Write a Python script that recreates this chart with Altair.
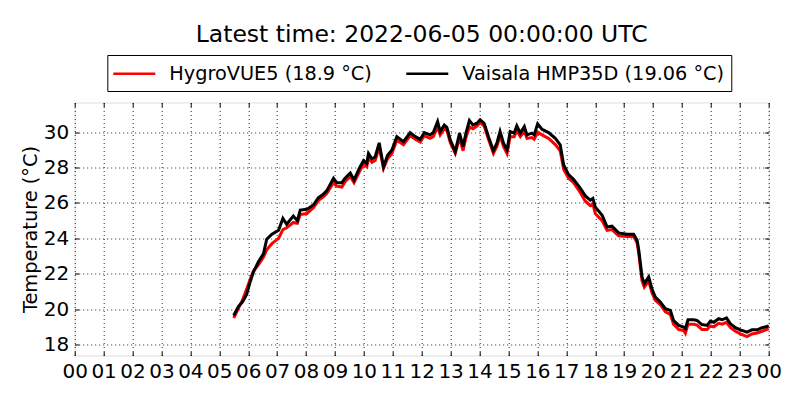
import altair as alt
import pandas as pd

FONT = "DejaVu Sans"

# hours of day (UTC) at which the traces were read
hours = [5.50, 5.66, 5.80, 5.95, 6.05, 6.18, 6.35, 6.53, 6.64, 6.82, 7.05, 7.20, 7.33, 7.56, 7.70,
         7.80, 8.03, 8.26, 8.43, 8.60, 8.72, 8.95, 9.06, 9.24, 9.35, 9.53, 9.66, 9.87, 9.99, 10.10,
         10.16, 10.28, 10.39, 10.53, 10.68, 10.82, 10.97, 11.14, 11.37, 11.60, 11.78, 11.95, 12.09,
         12.29, 12.40, 12.55, 12.64, 12.78, 12.87, 12.99, 13.16, 13.31, 13.43, 13.53, 13.65, 13.77,
         13.91, 14.02, 14.16, 14.31, 14.48, 14.60, 14.71, 14.83, 14.95, 15.06, 15.20, 15.29, 15.41,
         15.55, 15.64, 15.81, 15.89, 16.01, 16.16, 16.39, 16.62, 16.79, 16.91, 17.08, 17.25, 17.46,
         17.66, 17.83, 17.92, 18.00, 18.24, 18.41, 18.58, 18.81, 19.10, 19.33, 19.45, 19.51, 19.62,
         19.70, 19.85, 19.97, 20.08, 20.25, 20.43, 20.60, 20.71, 20.89, 21.06, 21.12, 21.21, 21.41,
         21.52, 21.69, 21.87, 21.98, 22.10, 22.27, 22.39, 22.54, 22.68, 22.85, 23.02, 23.25, 23.42,
         23.60, 23.77, 23.94, 24.00]

hygrovue = [19.50, 20.05, 20.50, 21.15, 21.60, 22.15, 22.50, 22.95, 23.35, 23.70, 24.00, 24.50, 24.60,
            24.90, 24.85, 25.35, 25.40, 25.75, 26.15, 26.35, 26.55, 27.15, 26.95, 26.90, 27.20, 27.50,
            27.15, 27.85, 28.20, 28.05, 28.55, 28.30, 28.40, 29.15, 27.95, 28.50, 28.80, 29.55, 29.30,
            29.80, 29.60, 29.45, 29.80, 29.65, 29.75, 30.30, 29.85, 30.20, 30.10, 29.40, 28.80, 29.70,
            28.95, 29.70, 30.30, 30.20, 30.35, 30.55, 30.35, 29.60, 28.80, 29.20, 29.80, 29.20, 28.80,
            29.75, 29.75, 30.10, 29.75, 30.05, 29.65, 29.70, 29.60, 30.00, 29.85, 29.65, 29.30, 28.95,
            27.90, 27.40, 27.15, 26.65, 26.10, 25.85, 25.95, 25.40, 25.00, 24.45, 24.50, 24.15, 24.10,
            24.10, 23.75, 23.10, 21.60, 21.25, 21.60, 20.90, 20.50, 20.25, 19.85, 19.70, 19.15, 18.85,
            18.80, 18.64, 19.15, 19.15, 19.10, 18.85, 18.85, 19.05, 19.00, 19.20, 19.15, 19.25, 18.95,
            18.75, 18.60, 18.45, 18.60, 18.65, 18.75, 18.85, 18.90]

vaisala = [19.64, 20.15, 20.40, 20.85, 21.45, 22.10, 22.67, 23.14, 23.95, 24.24, 24.46, 25.13, 24.80,
           25.26, 25.00, 25.60, 25.64, 25.90, 26.30, 26.50, 26.70, 27.40, 27.15, 27.15, 27.40, 27.70,
           27.30, 28.05, 28.40, 28.24, 28.80, 28.50, 28.60, 29.40, 28.05, 28.70, 29.00, 29.75, 29.47,
           29.98, 29.75, 29.60, 29.98, 29.85, 29.98, 30.60, 30.04, 30.40, 30.27, 29.56, 28.90, 29.95,
           29.19, 29.95, 30.66, 30.41, 30.51, 30.70, 30.50, 29.75, 28.96, 29.38, 30.04, 29.38, 29.00,
           30.04, 29.95, 30.36, 29.95, 30.32, 29.85, 29.95, 29.85, 30.47, 30.17, 29.98, 29.66, 29.28,
           28.15, 27.60, 27.34, 26.90, 26.40, 26.16, 26.26, 25.78, 25.31, 24.65, 24.69, 24.31, 24.24,
           24.24, 23.90, 23.30, 21.82, 21.44, 21.82, 21.10, 20.68, 20.40, 20.02, 19.93, 19.36, 19.08,
           18.98, 18.90, 19.40, 19.40, 19.36, 19.13, 19.08, 19.32, 19.26, 19.46, 19.40, 19.51, 19.17,
           18.95, 18.83, 18.70, 18.83, 18.83, 18.95, 19.02, 19.06]

sensor_names = ["HygroVUE5 (18.9 °C)", "Vaisala HMP35D (19.06 °C)"]
sensor_colors = ["#ff0000", "#000000"]

x_ticks = list(range(0, 25))
x_domain = [0, 24]
y_ticks = [18, 20, 22, 24, 26, 28, 30]
y_domain = [17.38, 31.68]

title_text = "Latest time: 2022-06-05 00:00:00 UTC"
y_title = "Temperature (°C)"

rows = []
for h, v in zip(hours, hygrovue):
    rows.append({"hour": h, "temp": v, "sensor": sensor_names[0]})
for h, v in zip(hours, vaisala):
    rows.append({"hour": h, "temp": v, "sensor": sensor_names[1]})
df = pd.DataFrame(rows)

xs = alt.Scale(domain=x_domain, nice=False, zero=False)
ys = alt.Scale(domain=y_domain, nice=False, zero=False)

label_expr = "(datum.value % 24 < 10 ? '0' : '') + (datum.value % 24)"

grid_common = dict(grid=True, gridColor="#000000", gridDash=[1, 3], gridWidth=1, gridOpacity=0.85)

main = alt.Chart(df).mark_line(strokeWidth=3).encode(
    x=alt.X("hour:Q", scale=xs, axis=alt.Axis(
        orient="bottom", values=x_ticks, labelExpr=label_expr, title=None,
        ticks=False, tickSize=0, domain=False, labelFontSize=20, labelFont=FONT,
        labelColor="black", labelPadding=6, labelFlush=False, labelOverlap=False,
        **grid_common)),
    y=alt.Y("temp:Q", scale=ys, axis=alt.Axis(
        orient="left", values=y_ticks, title=y_title, titleFont=FONT, titleFontSize=19.4,
        titleFontWeight="normal", titleColor="black", titlePadding=3,
        ticks=False, tickSize=0, domain=False, labelFontSize=20, labelFont=FONT,
        labelColor="black", labelPadding=6, labelFlush=False, labelOverlap=False,
        **grid_common)),
    color=alt.Color("sensor:N", scale=alt.Scale(domain=sensor_names, range=sensor_colors),
                    legend=alt.Legend(
                        title=None, orient="none", legendX=32.6, legendY=-47.5,
                        direction="horizontal", symbolType="M-2,0L2,0", symbolSize=441,
                        symbolStrokeWidth=2.5, symbolOffset=8.5, labelFontSize=19.3, labelFont=FONT,
                        labelColor="black", labelOffset=23, columnPadding=28,
                        padding=6.5, strokeColor="black", fillColor="white",
                        cornerRadius=0, labelLimit=500)),
)

tick_axis = dict(labels=False, domain=False, grid=False, ticks=True, tickSize=4, offset=-4,
                 tickColor="black", tickWidth=1, title=None)

ticks_tr = alt.Chart(df).mark_point(opacity=0).encode(
    x=alt.X("hour:Q", scale=xs, axis=alt.Axis(orient="top", values=x_ticks, **tick_axis)),
    y=alt.Y("temp:Q", scale=ys, axis=alt.Axis(orient="right", values=y_ticks, **tick_axis)),
)

ticks_bl = alt.Chart(df).mark_point(opacity=0).encode(
    x=alt.X("hour:Q", scale=xs, axis=alt.Axis(orient="bottom", values=x_ticks, **tick_axis)),
    y=alt.Y("temp:Q", scale=ys, axis=alt.Axis(orient="left", values=y_ticks, **tick_axis)),
)

chart = alt.layer(main, ticks_tr, ticks_bl).resolve_axis(
    x="independent", y="independent"
).properties(
    width=694, height=253,
    autosize=alt.AutoSizeParams(type="none"),
    padding={"left": 66.7, "top": 94.5, "right": 20, "bottom": 30},
    title=alt.Title(title_text, fontSize=23.5, font=FONT, fontWeight="normal", color="black",
                    anchor="middle", offset=8),
).configure_view(stroke="black", strokeWidth=1.2).configure(background="white")

chart.save("out.html", embed_options={"renderer": "svg", "actions": False})
